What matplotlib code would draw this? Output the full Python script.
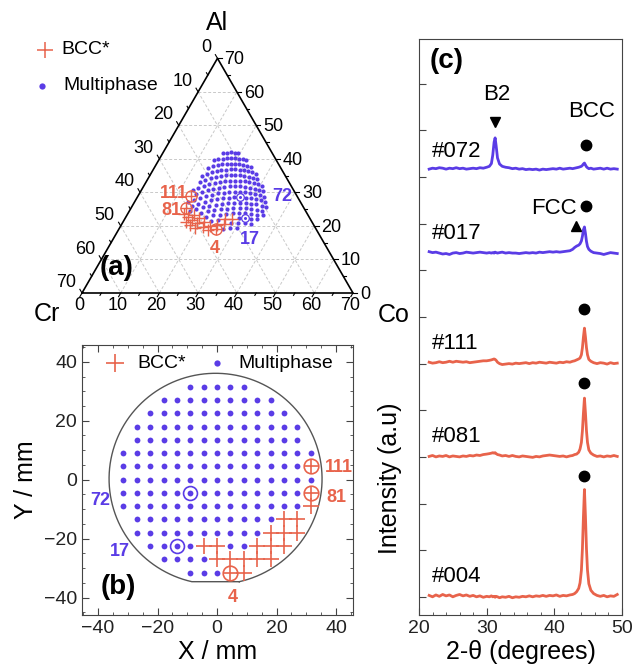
import numpy as np
import matplotlib
matplotlib.use("Agg")
import matplotlib.pyplot as plt

plt.rcParams['font.family'] = ['Liberation Sans', 'DejaVu Sans']

ORANGE = '#e8634b'
PURPLE = '#5a3ce6'
GRAY = '#444444'

# wafer sites: 4.5 mm pitch, x extent of each row
row_y    = [31.5, 27, 22.5, 18, 13.5, 9, 4.5, 0, -4.5, -9, -13.5, -18, -22.5, -27, -31.5]
row_xmin = [-9, -18, -22.5, -27, -27, -31.5, -31.5, -31.5, -31.5, -31.5, -27, -27, -22.5, -18, -9]
row_xmax = [9, 18, 22.5, 27, 27, 31.5, 31.5, 31.5, 31.5, 31.5, 27, 27, 22.5, 18, 9]

# sites classified as BCC*
bcc_x = [31.5, 31.5, 31.5, 22.5, 27, 18, 22.5, 27, -4.5, 0, 13.5, 18, 22.5, 0, 4.5, 9, 13.5, 18, 4.5, 9]
bcc_y = [4.5, -4.5, -9, -13.5, -13.5, -18, -18, -18, -22.5, -22.5, -22.5, -22.5, -22.5,
         -27, -27, -27, -27, -27, -31.5, -31.5]

# samples with XRD patterns
sample_ids = ['111', '81', '4', '72', '17']
sample_x = [31.5, 31.5, 4.5, -9, -13.5]
sample_y = [4.5, -4.5, -31.5, -4.5, -22.5]

# measured Cr / Al content (at.%, Co = 70 - Cr - Al) at reference sites
ref_x = [-9, -13.5, 31.5, 31.5, 4.5, 0]
ref_y = [-4.5, -22.5, 4.5, -4.5, -31.5, 31.5]
ref_cr = [14.2, 16.4, 26.6, 30.8, 27.2, 11.0]
ref_al = [28.5, 22.0, 29.2, 25.2, 19.0, 42.0]

# XRD patterns (2-theta in degrees, intensity above own baseline)
two_theta = [21.5, 22.0, 22.5, 23.0, 23.5, 24.0, 24.5, 25.0, 25.5, 26.0,
             26.5, 27.0, 27.5, 28.0, 28.5, 29.0, 29.5, 30.0, 30.4, 30.7,
             30.9, 31.1, 31.25, 31.4, 31.6, 31.9, 32.3, 32.8, 33.3, 33.8,
             34.3, 34.8, 35.3, 35.8, 36.3, 36.8, 37.3, 37.8, 38.3, 38.8,
             39.3, 39.8, 40.3, 40.8, 41.3, 41.8, 42.3, 42.7, 43.0, 43.3,
             43.6, 43.8, 44.0, 44.15, 44.3, 44.45, 44.6, 44.75, 44.9, 45.1,
             45.4, 45.8, 46.3, 46.8, 47.3, 47.8, 48.3, 48.8, 49.3]
int_004 = [0.03, 0.00, 0.04, 0.01, 0.05, 0.02, 0.04, 0.00, 0.03, 0.05,
           0.02, 0.04, 0.01, 0.03, 0.00, 0.02, -0.01, 0.01, 0.00, 0.02,
           0.00, 0.01, -0.01, 0.01, 0.00, -0.02, 0.00, -0.01, 0.01, -0.02,
           0.00, -0.01, 0.01, 0.00, 0.02, 0.00, 0.02, 0.01, 0.03, 0.01,
           0.03, 0.02, 0.04, 0.01, 0.03, 0.02, 0.04, 0.05, 0.07, 0.11,
           0.18, 0.30, 0.57, 1.03, 1.72, 2.30, 1.72, 1.03, 0.57, 0.28,
           0.14, 0.07, 0.03, 0.01, 0.03, 0.00, 0.02, 0.01, 0.05]
int_081 = [0.01, 0.03, 0.00, 0.02, 0.01, 0.03, 0.00, 0.02, 0.01, 0.00,
           0.02, 0.01, 0.03, 0.02, 0.04, 0.03, 0.05, 0.06, 0.07, 0.08,
           0.09, 0.08, 0.09, 0.07, 0.05, 0.04, 0.02, 0.03, 0.01, 0.03,
           0.01, 0.00, 0.02, 0.01, 0.00, -0.01, 0.01, 0.00, 0.02, 0.03,
           0.04, 0.03, 0.02, 0.01, 0.02, 0.00, 0.02, 0.03, 0.05, 0.06,
           0.10, 0.17, 0.31, 0.56, 0.94, 1.26, 0.94, 0.56, 0.31, 0.15,
           0.08, 0.04, 0.01, 0.02, 0.00, 0.02, 0.01, 0.03, 0.01]
int_111 = [0.03, 0.01, 0.02, 0.04, 0.02, 0.03, 0.05, 0.03, 0.05, 0.04,
           0.03, 0.04, 0.02, 0.03, 0.04, 0.05, 0.06, 0.06, 0.07, 0.08,
           0.09, 0.10, 0.09, 0.07, 0.03, 0.00, -0.02, -0.01, 0.00, -0.01,
           0.01, 0.00, 0.01, 0.02, 0.00, 0.02, 0.01, 0.03, 0.02, 0.01,
           0.03, 0.02, 0.01, 0.03, 0.02, 0.04, 0.03, 0.05, 0.06, 0.08,
           0.10, 0.12, 0.19, 0.34, 0.57, 0.76, 0.57, 0.34, 0.19, 0.09,
           0.05, 0.02, 0.00, 0.02, 0.01, -0.01, 0.02, 0.00, 0.01]
int_017 = [0.03, 0.01, 0.02, 0.00, -0.02, -0.01, -0.03, 0.00, 0.01, -0.01,
           0.00, 0.02, 0.01, 0.00, 0.01, 0.02, 0.01, 0.00, 0.01, 0.00,
           0.01, 0.00, 0.02, 0.01, 0.00, 0.01, 0.02, 0.00, 0.01, 0.00,
           0.00, -0.01, 0.00, 0.01, 0.00, 0.01, 0.00, 0.02, 0.01, 0.02,
           0.03, 0.02, 0.03, 0.02, 0.03, 0.04, 0.05, 0.08, 0.12, 0.15,
           0.17, 0.20, 0.26, 0.36, 0.50, 0.56, 0.42, 0.25, 0.14, 0.08,
           0.04, 0.01, 0.00, -0.01, -0.03, -0.01, 0.01, 0.00, -0.01]
int_072 = [0.00, 0.02, 0.01, 0.03, 0.02, 0.00, 0.02, 0.01, 0.03, 0.01,
           0.02, 0.00, 0.01, 0.02, 0.01, 0.03, 0.02, 0.04, 0.06, 0.12,
           0.30, 0.58, 0.67, 0.50, 0.24, 0.11, 0.06, 0.04, 0.03, 0.01,
           0.02, 0.00, 0.01, -0.01, 0.00, -0.01, 0.00, -0.02, 0.00, -0.01,
           0.00, 0.01, 0.00, 0.02, 0.00, 0.01, 0.02, 0.01, 0.02, 0.03,
           0.04, 0.05, 0.06, 0.08, 0.11, 0.13, 0.09, 0.05, 0.03, 0.01,
           0.02, 0.00, 0.01, 0.02, 0.00, 0.02, 0.00, 0.01, 0.00]

xrd_names = ['#004', '#081', '#111', '#017', '#072']
xrd_data = [int_004, int_081, int_111, int_017, int_072]
xrd_colors = [ORANGE, ORANGE, ORANGE, PURPLE, PURPLE]
xrd_offset = [0.0, 3.0, 5.0, 7.37, 9.17]
bcc_peak_pos = [44.45, 44.45, 44.45, 44.65, 44.65]
bcc_mark_y = [2.59, 4.59, 6.17, 8.37, 9.68]


# ---------- composition across the wafer ----------
def design(x, y):
    x = np.asarray(x, float)
    y = np.asarray(y, float)
    return np.column_stack([np.ones_like(x), x, y])


A_ref = design(ref_x, ref_y)
cr_r = np.array(ref_cr)
al_r = np.array(ref_al)
co_r = 70 - cr_r - al_r
k_cr = np.linalg.lstsq(A_ref, np.log(cr_r / co_r), rcond=None)[0]
k_al = np.linalg.lstsq(A_ref, np.log(al_r / co_r), rcond=None)[0]


def composition(x, y):
    A = design(x, y)
    r_cr = np.exp(A @ k_cr)
    r_al = np.exp(A @ k_al)
    co = 70 / (1 + r_cr + r_al)
    return r_cr * co, r_al * co


def tern(cr, al):
    cr = np.asarray(cr, float)
    al = np.asarray(al, float)
    co = 70 - cr - al
    return co + al / 2, al * np.sqrt(3) / 2


# wafer site list
gx, gy = [], []
for yy, x0, x1 in zip(row_y, row_xmin, row_xmax):
    xs = np.arange(x0, x1 + 0.01, 4.5)
    gx += list(xs)
    gy += [yy] * len(xs)
gx = np.array(gx)
gy = np.array(gy)


def member(px, py, lx, ly):
    return np.array([any(abs(a - b) < 0.1 and abs(c - d) < 0.1 for b, d in zip(lx, ly))
                     for a, c in zip(px, py)])


is_bcc = member(gx, gy, bcc_x, bcc_y)
is_smp = member(gx, gy, sample_x, sample_y)
multi = ~is_bcc & ~is_smp
bcc_plain = is_bcc & ~is_smp
smp_bcc = member(sample_x, sample_y, bcc_x, bcc_y)

fig = plt.figure(figsize=(6.33, 6.70), dpi=100)

# ---------- (a) ternary ----------
s = 3.871  # px per at.%
ax_a = fig.add_axes([0, 1 - 330 / 670, 415 / 633, 330 / 670])
ax_a.set_xlim(-82 / s, (415 - 82) / s)
ax_a.set_ylim(-(330 - 293) / s, 293 / s)
ax_a.axis('off')

for k in range(10, 70, 10):
    for c1, c2 in [((70 - k, k), (0, k)), ((70 - k, 0), (0, 70 - k)), ((k, 70 - k), (k, 0))]:
        X, Y = tern([c1[0], c2[0]], [c1[1], c2[1]])
        ax_a.plot(X, Y, ls=(0, (3, 2)), color='#c9c9c9', lw=0.7, zorder=1)
X, Y = tern([70, 0, 0, 70], [0, 70, 0, 0])
ax_a.plot(X, Y, color='black', lw=1.2, zorder=2)

h = np.sqrt(3) / 2
for k in range(0, 71, 5):
    L = 1.1 if k % 10 == 0 else 0.7
    # left side (Cr)
    X, Y = tern(k, 70 - k)
    ax_a.plot([X, X - 0.5 * L], [Y, Y + h * L], color='black', lw=0.8)
    # right side (Al)
    X, Y = tern(0, k)
    ax_a.plot([X, X + L], [Y, Y], color='black', lw=0.8)
    # bottom (Co)
    X, Y = tern(70 - k, 0)
    ax_a.plot([X, X - 0.5 * L], [Y, Y - h * L], color='black', lw=0.8)
    if k % 10:
        continue
    X, Y = tern(k, 70 - k)
    ax_a.text(X - 1.5, Y + 2.7, str(k), ha='right', va='center', fontsize=13)
    X, Y = tern(0, k)
    ax_a.text(X + 1.8, Y - 0.3, str(k), ha='left', va='center', fontsize=13)
    X, Y = tern(70 - k, 0)
    ax_a.text(X - 0.8, Y - 3.2, str(k), ha='center', va='center', fontsize=13)

ax_a.text(34.9, 69.7, 'Al', ha='center', va='center', fontsize=18)
ax_a.text(-9.0, -5.4, 'Cr', ha='center', va='center', fontsize=18)
ax_a.text(80.4, -5.7, 'Co', ha='center', va='center', fontsize=18)

cr_g, al_g = composition(gx, gy)
tx, ty = tern(cr_g, al_g)
ax_a.plot(tx[multi], ty[multi], 'o', color=PURPLE, ms=3.0, mew=0, zorder=3)
ax_a.plot(tx[bcc_plain], ty[bcc_plain], '+', color=ORANGE, ms=8, mew=1.0, zorder=4)

cr_s, al_s = composition(sample_x, sample_y)
sx, sy = tern(cr_s, al_s)
for i in range(len(sample_ids)):
    if smp_bcc[i]:
        ax_a.plot(sx[i], sy[i], 'o', mfc='none', mec=ORANGE, ms=8, mew=1.0, zorder=5)
        ax_a.plot(sx[i], sy[i], '+', color=ORANGE, ms=8, mew=1.0, zorder=5)
    else:
        ax_a.plot(sx[i], sy[i], 'o', mfc='white', mec=PURPLE, ms=5.5, mew=0.9, zorder=5)
        ax_a.plot(sx[i], sy[i], 'o', color=PURPLE, ms=2.2, mew=0, zorder=6)

lbl_a = {'111': (27.4, 25.8, 'right'), '81': (25.8, 21.4, 'right'), '4': (34.4, 11.6, 'center'),
         '72': (49.1, 24.8, 'left'), '17': (40.8, 13.9, 'left')}
for i, sid in enumerate(sample_ids):
    lx, ly, ha = lbl_a[sid]
    ax_a.text(lx, ly, sid, ha=ha, va='center', fontsize=13, fontweight='bold',
              color=ORANGE if smp_bcc[i] else PURPLE)

ax_a.text(4.6, 6.5, '(a)', ha='left', va='center', fontsize=20, fontweight='bold')
ax_a.plot(-9.6, 62.8, '+', color=ORANGE, ms=12, mew=1.1)
ax_a.text(-5.2, 62.8, 'BCC*', ha='left', va='center', fontsize=14)
ax_a.plot(-10.3, 53.5, 'o', color=PURPLE, ms=4.5, mew=0)
ax_a.text(-4.9, 53.5, 'Multiphase', ha='left', va='center', fontsize=14)

# ---------- (b) wafer map ----------
ax_b = fig.add_axes([82 / 633, 55 / 670, 271 / 633, 270 / 670])
ax_b.set_xlim(-45.4, 45.7)
ax_b.set_ylim(-45.9, 45.7)

# wafer outline with the flat at the bottom
cx, cy, R, flat_y = -0.5, 0.3, 35.8, -34.6
a0 = np.arcsin((flat_y - cy) / R)
ang = np.linspace(a0, np.pi - a0, 400)
wx = cx + R * np.cos(ang)
wy = cy + R * np.sin(ang)
ax_b.plot(np.r_[wx, wx[0]], np.r_[wy, wy[0]], color='#555555', lw=1.0)

ax_b.plot(gx[multi], gy[multi], 'o', color=PURPLE, ms=4.2, mew=0)
ax_b.plot(gx[bcc_plain], gy[bcc_plain], '+', color=ORANGE, ms=12, mew=1.2)
for i in range(len(sample_ids)):
    if smp_bcc[i]:
        ax_b.plot(sample_x[i], sample_y[i], 'o', mfc='none', mec=ORANGE, ms=10.5, mew=1.2)
        ax_b.plot(sample_x[i], sample_y[i], '+', color=ORANGE, ms=10.5, mew=1.2)
    else:
        ax_b.plot(sample_x[i], sample_y[i], 'o', mfc='none', mec=PURPLE, ms=10, mew=1.2)
        ax_b.plot(sample_x[i], sample_y[i], 'o', color=PURPLE, ms=4.2, mew=0)

lbl_b = {'111': (36.3, 4.3, 'left'), '81': (36.6, -6.2, 'left'), '4': (5.4, -39.8, 'center'),
         '72': (-36.0, -6.9, 'right'), '17': (-29.2, -24.5, 'right')}
for i, sid in enumerate(sample_ids):
    lx, ly, ha = lbl_b[sid]
    ax_b.text(lx, ly, sid, ha=ha, va='center', fontsize=13, fontweight='bold',
              color=ORANGE if smp_bcc[i] else PURPLE)

ax_b.plot(-34.3, 39.5, '+', color=ORANGE, ms=13, mew=1.2)
ax_b.text(-26.9, 39.5, 'BCC*', ha='left', va='center', fontsize=14)
ax_b.plot(0, 39.5, 'o', color=PURPLE, ms=4.5, mew=0)
ax_b.text(7.1, 39.5, 'Multiphase', ha='left', va='center', fontsize=14)
ax_b.text(-39.3, -36.4, '(b)', ha='left', va='center', fontsize=20, fontweight='bold')

ax_b.set_xticks([-40, -20, 0, 20, 40])
ax_b.set_yticks([-40, -20, 0, 20, 40])
ax_b.set_xticks(np.arange(-45, 46, 5), minor=True)
ax_b.set_yticks(np.arange(-45, 46, 5), minor=True)
ax_b.tick_params(which='both', direction='in', top=True, right=True, labelsize=14, colors=GRAY,
                 labelcolor='#222222')
ax_b.tick_params(which='major', length=5)
ax_b.tick_params(which='minor', length=2.5)
ax_b.set_xlabel('X / mm', fontsize=18, labelpad=2)
ax_b.set_ylabel('Y / mm', fontsize=18, labelpad=4)
for sp in ax_b.spines.values():
    sp.set_color(GRAY)

# ---------- (c) XRD ----------
ax_c = fig.add_axes([419 / 633, 55 / 670, 203 / 633, 576 / 670])
ax_c.set_xlim(20, 50)
ax_c.set_ylim(-0.39, 11.96)
for name, inten, col, off, px, my in zip(xrd_names, xrd_data, xrd_colors, xrd_offset,
                                         bcc_peak_pos, bcc_mark_y):
    ax_c.plot(two_theta, np.array(inten) + off, color=col, lw=2.0, solid_joinstyle='round')
    ax_c.text(21.9, off + (0.38 if name == '#072' else 0.43),
              name, ha='left', va='center', fontsize=16)
    ax_c.plot(px, my, 'o', color='black', ms=7.5)

ax_c.plot(31.2, 10.17, 'v', color='black', ms=7.5)
ax_c.plot(43.2, 7.95, '^', color='black', ms=7.5)
ax_c.text(31.5, 10.77, 'B2', ha='center', va='center', fontsize=16)
ax_c.text(45.5, 10.41, 'BCC', ha='center', va='center', fontsize=16)
ax_c.text(43.3, 8.33, 'FCC', ha='right', va='center', fontsize=16)
ax_c.text(21.6, 11.48, '(c)', ha='left', va='center', fontsize=20, fontweight='bold')

ax_c.set_xticks([20, 30, 40, 50])
ax_c.set_xticks(np.arange(20, 51, 2), minor=True)
ax_c.set_yticks(np.arange(0, 12, 1))
ax_c.set_yticklabels([])
ax_c.tick_params(which='both', direction='in', labelsize=14, colors=GRAY, labelcolor='#222222')
ax_c.tick_params(which='major', length=5)
ax_c.tick_params(which='minor', length=2.5)
ax_c.set_xlabel('2-θ (degrees)', fontsize=18, labelpad=2)
ax_c.set_ylabel('Intensity (a.u)', fontsize=18)
ax_c.yaxis.set_label_coords(-0.085, 0.238)
for sp in ax_c.spines.values():
    sp.set_color(GRAY)

fig.savefig('out.png', dpi=100)
